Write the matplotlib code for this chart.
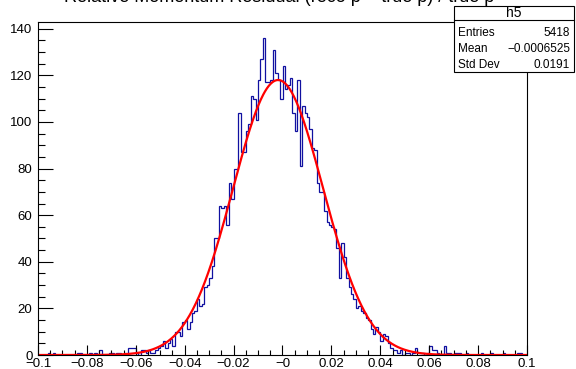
import numpy as np
import matplotlib.pyplot as plt
from matplotlib.patches import Rectangle
from matplotlib.lines import Line2D
from matplotlib.ticker import MultipleLocator

plt.rcParams['font.family'] = ['Liberation Sans', 'DejaVu Sans']

# histogram h5: 200 bins from -0.1 to 0.1 (counts)
x_lo, x_hi, n_bins = -0.1, 0.1, 200
counts = [
    0, 0, 0, 0, 1, 0, 1, 0, 0, 0,
    0, 0, 0, 0, 0, 0, 1, 1, 0, 0,
    0, 1, 0, 1, 0, 2, 0, 0, 0, 1,
    1, 0, 1, 1, 0, 1, 0, 3, 3, 3,
    1, 0, 2, 2, 1, 2, 1, 1, 2, 3,
    4, 6, 3, 5, 7, 4, 10, 10, 8, 14,
    15, 11, 14, 18, 19, 24, 21, 22, 29, 30,
    33, 38, 50, 50, 64, 63, 64, 56, 74, 67,
    80, 80, 104, 87, 87, 96, 99, 111, 110, 101,
    118, 127, 136, 117, 117, 118, 131, 121, 118, 110,
    124, 114, 116, 119, 104, 96, 118, 81, 107, 104,
    102, 97, 89, 88, 74, 70, 70, 62, 57, 56,
    55, 54, 46, 33, 48, 42, 33, 29, 26, 24,
    20, 21, 19, 18, 16, 15, 11, 9, 12, 10,
    6, 9, 8, 5, 3, 2, 2, 1, 2, 0,
    1, 1, 0, 1, 3, 1, 1, 1, 0, 1,
    4, 2, 2, 1, 0, 0, 4, 1, 1, 0,
    1, 1, 1, 0, 0, 1, 0, 0, 0, 0,
    0, 1, 0, 0, 0, 1, 0, 0, 0, 0,
    1, 0, 0, 0, 0, 0, 1, 1, 0, 0,
]

# gaussian fit parameters
fit_const = 118.0
fit_mean = -0.0018
fit_sigma = 0.0184

stats_labels = ['Entries', 'Mean', 'Std Dev']
stats_values = ['5418', '\u22120.0006525', '0.0191']

edges = np.linspace(x_lo, x_hi, n_bins + 1)
xf = np.linspace(x_lo, x_hi, 800)
yf = fit_const * np.exp(-0.5 * ((xf - fit_mean) / fit_sigma) ** 2)

W, H = 576, 369
fig = plt.figure(figsize=(W / 100, H / 100), dpi=100)
ax = fig.add_axes([38 / W, 1 - 355 / H, (527 - 38) / W, (355 - 22) / H])

ax.stairs(counts, edges, color='#1010a0', lw=0.9)
ax.plot(xf, yf, color='red', lw=1.6)

ax.set_xlim(x_lo, x_hi)
ax.set_ylim(0, 142.9)
ax.xaxis.set_major_locator(MultipleLocator(0.02))
ax.xaxis.set_minor_locator(MultipleLocator(0.005))
ax.yaxis.set_major_locator(MultipleLocator(20))
ax.yaxis.set_minor_locator(MultipleLocator(5))
ax.xaxis.set_major_formatter(plt.FuncFormatter(lambda v, p: ('%g' % round(v, 3)).replace('-', '\u2212')))
ax.tick_params(axis='both', which='both', direction='in', top=False, right=False,
               labelsize=9.5, width=0.8)
ax.tick_params(axis='x', which='major', length=7, pad=2)
ax.tick_params(axis='x', which='minor', length=3.5)
ax.tick_params(axis='y', which='major', length=11, pad=4)
ax.tick_params(axis='y', which='minor', length=5)
for s in ax.spines.values():
    s.set_linewidth(0.8)

# title (mostly cut off at the top of the canvas)
fig.text(0.485, 1 - 2 / H, 'Relative Momentum Residual (reco p \u2212 true p) / true p',
         ha='center', va='baseline', fontsize=13)

# stats box
bx0, bx1 = 454 / W, 574 / W
by_top, by_sep, by_bot = 1 - 6 / H, 1 - 20 / H, 1 - 72 / H
fig.add_artist(Rectangle((bx0, by_bot), bx1 - bx0, by_top - by_bot, transform=fig.transFigure,
                         facecolor='white', edgecolor='black', lw=0.8, zorder=5))
fig.add_artist(Line2D([bx0, bx1], [by_sep, by_sep], transform=fig.transFigure,
                      color='black', lw=0.8, zorder=6))
fig.text((bx0 + bx1) / 2, 1 - 13 / H, 'h5', ha='center', va='center', fontsize=10, zorder=7)
for k, (lab, val) in enumerate(zip(stats_labels, stats_values)):
    yy = 1 - (33 + 16 * k) / H
    fig.text(458 / W, yy, lab, ha='left', va='center', fontsize=8.5, zorder=7)
    fig.text(570 / W, yy, val, ha='right', va='center', fontsize=8.5, zorder=7)

fig.savefig('out.png', dpi=100)
